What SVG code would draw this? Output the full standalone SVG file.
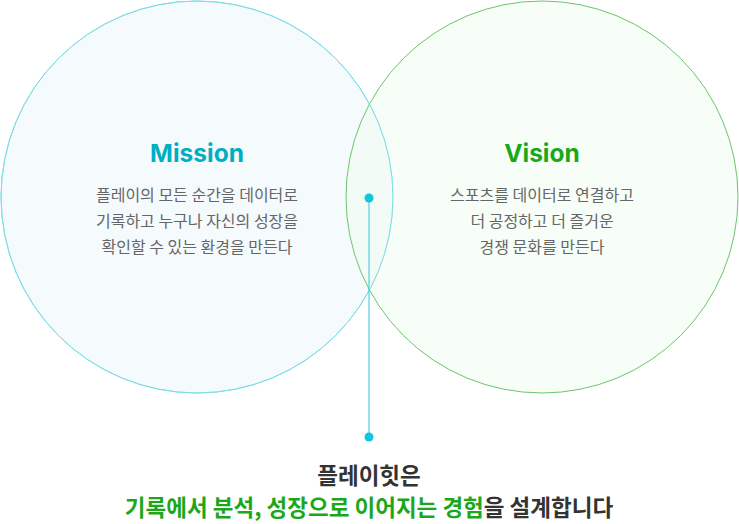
<svg xmlns="http://www.w3.org/2000/svg" width="739" height="524" viewBox="0 0 739 524">
<style>
.t{font-family:"Noto Sans CJK KR","Noto Sans",sans-serif}
.h{font-size:24.5px;font-weight:700;text-anchor:middle;font-family:Inter,"Noto Sans",sans-serif}
.b{font-size:16px;fill:#666;text-anchor:middle}
.f{font-size:22.5px;font-weight:700;text-anchor:middle}
</style>
<rect width="739" height="524" fill="#fff"/>
<g id="mission">
<circle cx="197" cy="197" r="196" fill="#f4f9fd" fill-opacity="0.9" stroke="#7fdde8" stroke-width="1"/>
</g>
<g id="vision">
<circle cx="542" cy="197" r="196" fill="#f1fcf1" fill-opacity="0.6" stroke="#6cc56c" stroke-width="1"/>
<circle cx="197" cy="197" r="196" fill="none" stroke="#7fdde8" stroke-width="1"/>
</g>
<g id="mission-text">
<text class="h" x="197" y="162" fill="#00aec4">Mission</text>
<text class="t b" x="197" y="201">플레이의 모든 순간을 데이터로</text>
<text class="t b" x="197" y="227">기록하고 누구나 자신의 성장을</text>
<text class="t b" x="197" y="253">확인할 수 있는 환경을 만든다</text>
</g>
<g id="vision-text">
<text class="h" x="542" y="162" fill="#1aa81a">Vision</text>
<text class="t b" x="542" y="201">스포츠를 데이터로 연결하고</text>
<text class="t b" x="542" y="227">더 공정하고 더 즐거운</text>
<text class="t b" x="542" y="253">경쟁 문화를 만든다</text>
</g>
<g id="connectors">
<line x1="369" y1="198" x2="369" y2="437" stroke="#33c9d9" stroke-width="1"/>
<circle cx="369" cy="198" r="4.5" fill="#0fc6dc"/>
<circle cx="369" cy="437" r="4.5" fill="#0fc6dc"/>
</g>
<g id="summary">
<text class="t f" x="369" y="484" fill="#333">플레이힛은</text>
<text class="t f" x="369" y="516" fill="#333"><tspan fill="#1aa81a">기록에서 분석, 성장으로 이어지는 경험</tspan>을 설계합니다</text>
</g>
</svg>
